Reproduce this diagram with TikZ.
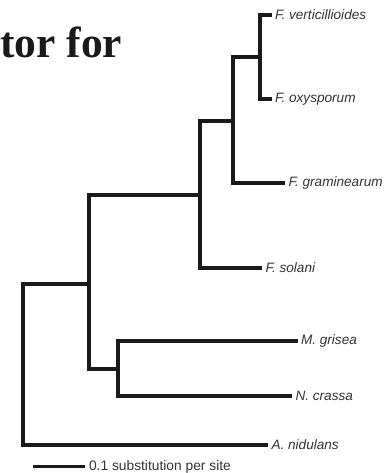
\documentclass[tikz,border=0pt]{standalone}
\usepackage{fontspec}
\setmainfont{Liberation Serif}
\newfontfamily\labfont{Liberation Sans}
\definecolor{treeline}{HTML}{1A1A1A}
\definecolor{labgray}{HTML}{333333}
\begin{document}
\begin{tikzpicture}[x=1pt,y=-1pt,
  branch/.style={draw=treeline,line width=3.1pt,line join=miter},
  leaf/.style={anchor=west,inner xsep=3.5pt,inner ysep=0pt,outer sep=0pt,font=\labfont\fontsize{13.6}{15}\selectfont\itshape,text=labgray},
  scalelab/.style={anchor=west,inner xsep=4pt,inner ysep=0pt,outer sep=0pt,font=\labfont\fontsize{13.8}{15}\selectfont,text=labgray},
  titletext/.style={anchor=base west,inner sep=0pt,font=\fontsize{43.5}{46}\selectfont\bfseries,text=treeline}]
\useasboundingbox (0,0) rectangle (386,473);
\clip (0,0) rectangle (386,473);
% title fragment
\node[titletext] (title) at (0,58) {tor for};
% inner nodes
\coordinate (r) at (23,365);
\coordinate (a) at (89,284);
\coordinate (b) at (200,195);
\coordinate (c) at (233,121);
\coordinate (d) at (260,57);
\coordinate (e) at (118,369);
% leaves
\node[leaf] (fv) at (271.5,15) {F. verticillioides};
\node[leaf] (fo) at (271.5,99) {F. oxysporum};
\node[leaf] (fg) at (285,183) {F. graminearum};
\node[leaf] (fs) at (262,268) {F. solani};
\node[leaf] (mg) at (297.5,341) {M. grisea};
\node[leaf] (nc) at (292,396) {N. crassa};
\node[leaf] (an) at (268,445) {A. nidulans};
% branches
\draw[branch] (d) |- (fv.west);
\draw[branch] (d) |- (fo.west);
\draw[branch] (c) |- (d);
\draw[branch] (c) |- (fg.west);
\draw[branch] (b) |- (c);
\draw[branch] (b) |- (fs.west);
\draw[branch] (a) |- (b);
\draw[branch] (a) |- (e);
\draw[branch] (e) |- (mg.west);
\draw[branch] (e) |- (nc.west);
\draw[branch] (r) |- (a);
\draw[branch] (r) |- (an.west);
% scale bar
\coordinate (sb) at (33,466.5);
\node[scalelab] (sl) at (85,466.5) {0.1 substitution per site};
\draw[branch] (sb) -- (sl.west);
\end{tikzpicture}
\end{document}
